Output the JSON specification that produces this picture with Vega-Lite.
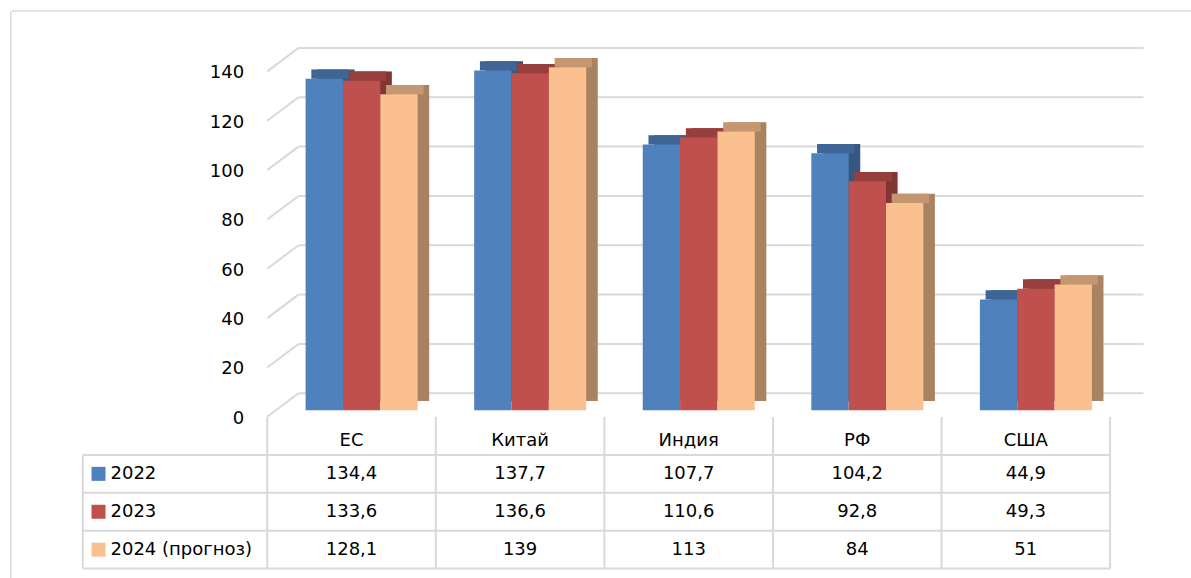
{
  "$schema": "https://vega.github.io/schema/vega-lite/v6.json",
  "padding": {"left": 10, "top": 10, "right": 0, "bottom": 0},
  "background": "white",
  "spacing": 0,
  "bounds": "flush",
  "config": {
    "view": {"stroke": null},
    "font": "DejaVu Sans",
    "text": {"font": "DejaVu Sans", "fontSize": 18, "color": "#000000"},
    "locale": {"number": {"decimal": ",", "thousands": " ", "grouping": [3], "currency": ["", ""]}}
  },
  "datasets": {
    "d": [
      {"cat": "ЕС", "series": "2022", "v": 134.4},
      {"cat": "ЕС", "series": "2023", "v": 133.6},
      {"cat": "ЕС", "series": "2024 (прогноз)", "v": 128.1},
      {"cat": "Китай", "series": "2022", "v": 137.7},
      {"cat": "Китай", "series": "2023", "v": 136.6},
      {"cat": "Китай", "series": "2024 (прогноз)", "v": 139},
      {"cat": "Индия", "series": "2022", "v": 107.7},
      {"cat": "Индия", "series": "2023", "v": 110.6},
      {"cat": "Индия", "series": "2024 (прогноз)", "v": 113},
      {"cat": "РФ", "series": "2022", "v": 104.2},
      {"cat": "РФ", "series": "2023", "v": 92.8},
      {"cat": "РФ", "series": "2024 (прогноз)", "v": 84},
      {"cat": "США", "series": "2022", "v": 44.9},
      {"cat": "США", "series": "2023", "v": 49.3},
      {"cat": "США", "series": "2024 (прогноз)", "v": 51}
    ],
    "grid": [{"g": 0}, {"g": 20}, {"g": 40}, {"g": 60}, {"g": 80}, {"g": 100}, {"g": 120}, {"g": 140}]
  },
  "vconcat": [
    {
      "width": 1180,
      "height": 405.9,
      "resolve": {"scale": {"xOffset": "independent"}},
      "layer": [
        {
          "data": {"name": "grid"},
          "transform": [{"filter": "datum.g == 140"}],
          "mark": {"type": "rule", "stroke": "#d9d9d9", "strokeWidth": 1.5},
          "encoding": {
            "y": {"datum": 161.85, "type": "quantitative", "scale": {"domain": [-2.68, 161.85], "nice": false, "zero": false}, "axis": null}
          }
        },
        {
          "data": {"name": "grid"},
          "transform": [{"filter": "datum.g == 140"}],
          "mark": {"type": "rule", "stroke": "#d9d9d9", "strokeWidth": 1.5, "xOffset": -256.4},
          "encoding": {
            "x": {"datum": "ЕС", "type": "nominal", "bandPosition": 0, "scale": {"domain": ["ЕС", "Китай", "Индия", "РФ", "США"], "paddingInner": 0, "paddingOuter": 1.0065, "align": 0.757}, "axis": null}
          }
        },
        {
          "data": {"name": "grid"},
          "mark": {"type": "rule", "stroke": "#d9d9d9", "strokeWidth": 2, "xOffset": 31.3, "x2Offset": 33.4, "yOffset": -17, "y2Offset": -17},
          "encoding": {
            "x": {"datum": "ЕС", "type": "nominal", "bandPosition": 0, "scale": {"domain": ["ЕС", "Китай", "Индия", "РФ", "США"], "paddingInner": 0, "paddingOuter": 1.0065, "align": 0.757}, "axis": null},
            "x2": {"datum": "США", "bandPosition": 1},
            "y": {"field": "g", "type": "quantitative", "scale": {"domain": [-2.68, 161.85], "nice": false, "zero": false}, "axis": null}
          }
        },
        {
          "data": {"name": "grid"},
          "mark": {"type": "rule", "stroke": "#d9d9d9", "strokeWidth": 2, "x2Offset": 31.3, "yOffset": 6.5, "y2Offset": -17},
          "encoding": {
            "x": {"datum": "ЕС", "type": "nominal", "bandPosition": 0, "scale": {"domain": ["ЕС", "Китай", "Индия", "РФ", "США"], "paddingInner": 0, "paddingOuter": 1.0065, "align": 0.757}, "axis": null},
            "x2": {"datum": "ЕС", "bandPosition": 0},
            "y": {"field": "g", "type": "quantitative", "scale": {"domain": [-2.68, 161.85], "nice": false, "zero": false}, "axis": null},
            "y2": {"field": "g"}
          }
        },
        {
          "data": {"name": "grid"},
          "mark": {"type": "text", "align": "right", "baseline": "middle", "xOffset": -23, "dy": 8.5, "fontSize": 18, "font": "DejaVu Sans", "color": "#000000"},
          "encoding": {
            "x": {"datum": "ЕС", "type": "nominal", "bandPosition": 0, "scale": {"domain": ["ЕС", "Китай", "Индия", "РФ", "США"], "paddingInner": 0, "paddingOuter": 1.0065, "align": 0.757}, "axis": null},
            "y": {"field": "g", "type": "quantitative", "scale": {"domain": [-2.68, 161.85], "nice": false, "zero": false}, "axis": null},
            "text": {"field": "g", "type": "quantitative", "format": "d"}
          }
        },
        {
          "data": {"name": "d"},
          "mark": {"type": "bar", "yOffset": -9.3, "y2Offset": -9.3},
          "encoding": {
            "x": {"field": "cat", "type": "nominal", "scale": {"domain": ["ЕС", "Китай", "Индия", "РФ", "США"], "paddingInner": 0, "paddingOuter": 1.0065, "align": 0.757}, "axis": null},
            "xOffset": {"field": "series", "type": "nominal", "scale": {"domain": ["2022", "2023", "2024 (прогноз)"], "paddingInner": 0, "paddingOuter": 0.757, "align": 0.883}},
            "y": {"field": "v", "type": "quantitative", "scale": {"domain": [-2.68, 161.85], "nice": false, "zero": false}, "axis": null},
            "color": {"field": "series", "type": "nominal", "scale": {"domain": ["2022", "2023", "2024 (прогноз)"], "range": ["#4f81bd", "#c0504d", "#fac090"]}, "legend": null}
          }
        },
        {
          "data": {"name": "d"},
          "mark": {"type": "bar", "yOffset": -9.3, "y2Offset": -9.3, "color": "#000000", "opacity": 0.32},
          "encoding": {
            "x": {"field": "cat", "type": "nominal", "scale": {"domain": ["ЕС", "Китай", "Индия", "РФ", "США"], "paddingInner": 0, "paddingOuter": 1.0065, "align": 0.757}, "axis": null},
            "xOffset": {"field": "series", "type": "nominal", "scale": {"domain": ["2022", "2023", "2024 (прогноз)"], "paddingInner": 0, "paddingOuter": 0.757, "align": 0.883}},
            "y": {"field": "v", "type": "quantitative", "scale": {"domain": [-2.68, 161.85], "nice": false, "zero": false}, "axis": null}
          }
        },
        {
          "data": {"name": "d"},
          "mark": {"type": "bar", "yOffset": -9.3, "y2Offset": 0},
          "encoding": {
            "x": {"field": "cat", "type": "nominal", "scale": {"domain": ["ЕС", "Китай", "Индия", "РФ", "США"], "paddingInner": 0, "paddingOuter": 1.0065, "align": 0.757}, "axis": null},
            "xOffset": {"field": "series", "type": "nominal", "scale": {"domain": ["2022", "2023", "2024 (прогноз)"], "paddingInner": 0, "paddingOuter": 0.757, "align": 0.781}},
            "y": {"field": "v", "type": "quantitative", "scale": {"domain": [-2.68, 161.85], "nice": false, "zero": false}, "axis": null},
            "y2": {"field": "v"},
            "color": {"field": "series", "type": "nominal", "scale": {"domain": ["2022", "2023", "2024 (прогноз)"], "range": ["#4f81bd", "#c0504d", "#fac090"]}, "legend": null}
          }
        },
        {
          "data": {"name": "d"},
          "mark": {"type": "bar", "yOffset": -9.3, "y2Offset": 0, "color": "#000000", "opacity": 0.21},
          "encoding": {
            "x": {"field": "cat", "type": "nominal", "scale": {"domain": ["ЕС", "Китай", "Индия", "РФ", "США"], "paddingInner": 0, "paddingOuter": 1.0065, "align": 0.757}, "axis": null},
            "xOffset": {"field": "series", "type": "nominal", "scale": {"domain": ["2022", "2023", "2024 (прогноз)"], "paddingInner": 0, "paddingOuter": 0.757, "align": 0.781}},
            "y": {"field": "v", "type": "quantitative", "scale": {"domain": [-2.68, 161.85], "nice": false, "zero": false}, "axis": null},
            "y2": {"field": "v"}
          }
        },
        {
          "data": {"name": "d"},
          "mark": {"type": "bar"},
          "encoding": {
            "x": {"field": "cat", "type": "nominal", "scale": {"domain": ["ЕС", "Китай", "Индия", "РФ", "США"], "paddingInner": 0, "paddingOuter": 1.0065, "align": 0.757}, "axis": null},
            "xOffset": {"field": "series", "type": "nominal", "scale": {"domain": ["2022", "2023", "2024 (прогноз)"], "paddingInner": 0, "paddingOuter": 0.757, "align": 0.679}},
            "y": {"field": "v", "type": "quantitative", "scale": {"domain": [-2.68, 161.85], "nice": false, "zero": false}, "axis": null},
            "color": {"field": "series", "type": "nominal", "scale": {"domain": ["2022", "2023", "2024 (прогноз)"], "range": ["#4f81bd", "#c0504d", "#fac090"]}, "legend": null}
          }
        }
      ]
    },
    {
      "width": 1180,
      "height": 162,
      "layer": [
        {
          "data": {"name": "grid"},
          "transform": [{"filter": "datum.g == 140"}],
          "mark": {"type": "rule", "stroke": "#d9d9d9", "strokeWidth": 1.5, "xOffset": -256.4},
          "encoding": {
            "x": {"datum": "ЕС", "type": "nominal", "bandPosition": 0, "scale": {"domain": ["ЕС", "Китай", "Индия", "РФ", "США"], "paddingInner": 0, "paddingOuter": 1.0065, "align": 0.757}, "axis": null}
          }
        },
        {
          "data": {"name": "d"},
          "transform": [{"filter": "datum.series == '2022'"}],
          "mark": {"type": "rule", "stroke": "#d9d9d9", "strokeWidth": 2},
          "encoding": {
            "x": {"field": "cat", "type": "nominal", "bandPosition": 0, "scale": {"domain": ["ЕС", "Китай", "Индия", "РФ", "США"], "paddingInner": 0, "paddingOuter": 1.0065, "align": 0.757}, "axis": null},
            "y": {"datum": "hdr", "type": "nominal", "bandPosition": 0, "scale": {"domain": ["hdr", "2022", "2023", "2024 (прогноз)"], "paddingInner": 0, "paddingOuter": 0.137, "align": 0}, "axis": null},
            "y2": {"datum": "2024 (прогноз)", "bandPosition": 1}
          }
        },
        {
          "data": {"name": "d"},
          "transform": [{"filter": "datum.cat == 'США' && datum.series == '2022'"}],
          "mark": {"type": "rule", "stroke": "#d9d9d9", "strokeWidth": 2},
          "encoding": {
            "x": {"field": "cat", "type": "nominal", "bandPosition": 1, "scale": {"domain": ["ЕС", "Китай", "Индия", "РФ", "США"], "paddingInner": 0, "paddingOuter": 1.0065, "align": 0.757}, "axis": null},
            "y": {"datum": "hdr", "type": "nominal", "bandPosition": 0, "scale": {"domain": ["hdr", "2022", "2023", "2024 (прогноз)"], "paddingInner": 0, "paddingOuter": 0.137, "align": 0}, "axis": null},
            "y2": {"datum": "2024 (прогноз)", "bandPosition": 1}
          }
        },
        {
          "data": {"name": "d"},
          "transform": [{"filter": "datum.cat == 'ЕС'"}],
          "mark": {"type": "rule", "stroke": "#d9d9d9", "strokeWidth": 2, "xOffset": -184.4},
          "encoding": {
            "x": {"datum": "ЕС", "type": "nominal", "bandPosition": 0, "scale": {"domain": ["ЕС", "Китай", "Индия", "РФ", "США"], "paddingInner": 0, "paddingOuter": 1.0065, "align": 0.757}, "axis": null},
            "x2": {"datum": "США", "bandPosition": 1},
            "y": {"field": "series", "type": "nominal", "bandPosition": 0, "scale": {"domain": ["hdr", "2022", "2023", "2024 (прогноз)"], "paddingInner": 0, "paddingOuter": 0.137, "align": 0}, "axis": null}
          }
        },
        {
          "data": {"name": "d"},
          "transform": [{"filter": "datum.cat == 'ЕС' && datum.series == '2024 (прогноз)'"}],
          "mark": {"type": "rule", "stroke": "#d9d9d9", "strokeWidth": 2, "xOffset": -184.4},
          "encoding": {
            "x": {"datum": "ЕС", "type": "nominal", "bandPosition": 0, "scale": {"domain": ["ЕС", "Китай", "Индия", "РФ", "США"], "paddingInner": 0, "paddingOuter": 1.0065, "align": 0.757}, "axis": null},
            "x2": {"datum": "США", "bandPosition": 1},
            "y": {"field": "series", "type": "nominal", "bandPosition": 1, "scale": {"domain": ["hdr", "2022", "2023", "2024 (прогноз)"], "paddingInner": 0, "paddingOuter": 0.137, "align": 0}, "axis": null}
          }
        },
        {
          "data": {"name": "d"},
          "transform": [{"filter": "datum.cat == 'ЕС' && datum.series == '2022'"}],
          "mark": {"type": "rule", "stroke": "#d9d9d9", "strokeWidth": 2, "xOffset": -184.4},
          "encoding": {
            "x": {"datum": "ЕС", "type": "nominal", "bandPosition": 0, "scale": {"domain": ["ЕС", "Китай", "Индия", "РФ", "США"], "paddingInner": 0, "paddingOuter": 1.0065, "align": 0.757}, "axis": null},
            "y": {"datum": "2022", "type": "nominal", "bandPosition": 0, "scale": {"domain": ["hdr", "2022", "2023", "2024 (прогноз)"], "paddingInner": 0, "paddingOuter": 0.137, "align": 0}, "axis": null},
            "y2": {"datum": "2024 (прогноз)", "bandPosition": 1}
          }
        },
        {
          "data": {"name": "d"},
          "transform": [{"filter": "datum.series == '2022'"}],
          "mark": {"type": "text", "dy": 5, "fontSize": 18, "font": "DejaVu Sans", "color": "#000000"},
          "encoding": {
            "x": {"field": "cat", "type": "nominal", "scale": {"domain": ["ЕС", "Китай", "Индия", "РФ", "США"], "paddingInner": 0, "paddingOuter": 1.0065, "align": 0.757}, "axis": null},
            "y": {"datum": "hdr", "type": "nominal", "scale": {"domain": ["hdr", "2022", "2023", "2024 (прогноз)"], "paddingInner": 0, "paddingOuter": 0.137, "align": 0}, "axis": null},
            "text": {"field": "cat"}
          }
        },
        {
          "data": {"name": "d"},
          "mark": {"type": "text", "fontSize": 18, "font": "DejaVu Sans", "color": "#000000"},
          "encoding": {
            "x": {"field": "cat", "type": "nominal", "scale": {"domain": ["ЕС", "Китай", "Индия", "РФ", "США"], "paddingInner": 0, "paddingOuter": 1.0065, "align": 0.757}, "axis": null},
            "y": {"field": "series", "type": "nominal", "scale": {"domain": ["hdr", "2022", "2023", "2024 (прогноз)"], "paddingInner": 0, "paddingOuter": 0.137, "align": 0}, "axis": null},
            "text": {"field": "v", "type": "quantitative", "format": ".1~f"}
          }
        },
        {
          "data": {"name": "d"},
          "transform": [{"filter": "datum.cat == 'ЕС'"}],
          "mark": {"type": "square", "size": 196, "filled": true, "opacity": 1, "xOffset": -168.7},
          "encoding": {
            "x": {"datum": "ЕС", "type": "nominal", "bandPosition": 0, "scale": {"domain": ["ЕС", "Китай", "Индия", "РФ", "США"], "paddingInner": 0, "paddingOuter": 1.0065, "align": 0.757}, "axis": null},
            "y": {"field": "series", "type": "nominal", "scale": {"domain": ["hdr", "2022", "2023", "2024 (прогноз)"], "paddingInner": 0, "paddingOuter": 0.137, "align": 0}, "axis": null},
            "color": {"field": "series", "type": "nominal", "scale": {"domain": ["2022", "2023", "2024 (прогноз)"], "range": ["#4f81bd", "#c0504d", "#fac090"]}, "legend": null}
          }
        },
        {
          "data": {"name": "d"},
          "transform": [{"filter": "datum.cat == 'ЕС'"}],
          "mark": {"type": "text", "align": "left", "xOffset": -156.7, "fontSize": 18, "font": "DejaVu Sans", "color": "#000000"},
          "encoding": {
            "x": {"datum": "ЕС", "type": "nominal", "bandPosition": 0, "scale": {"domain": ["ЕС", "Китай", "Индия", "РФ", "США"], "paddingInner": 0, "paddingOuter": 1.0065, "align": 0.757}, "axis": null},
            "y": {"field": "series", "type": "nominal", "scale": {"domain": ["hdr", "2022", "2023", "2024 (прогноз)"], "paddingInner": 0, "paddingOuter": 0.137, "align": 0}, "axis": null},
            "text": {"field": "series"}
          }
        }
      ]
    }
  ]
}
